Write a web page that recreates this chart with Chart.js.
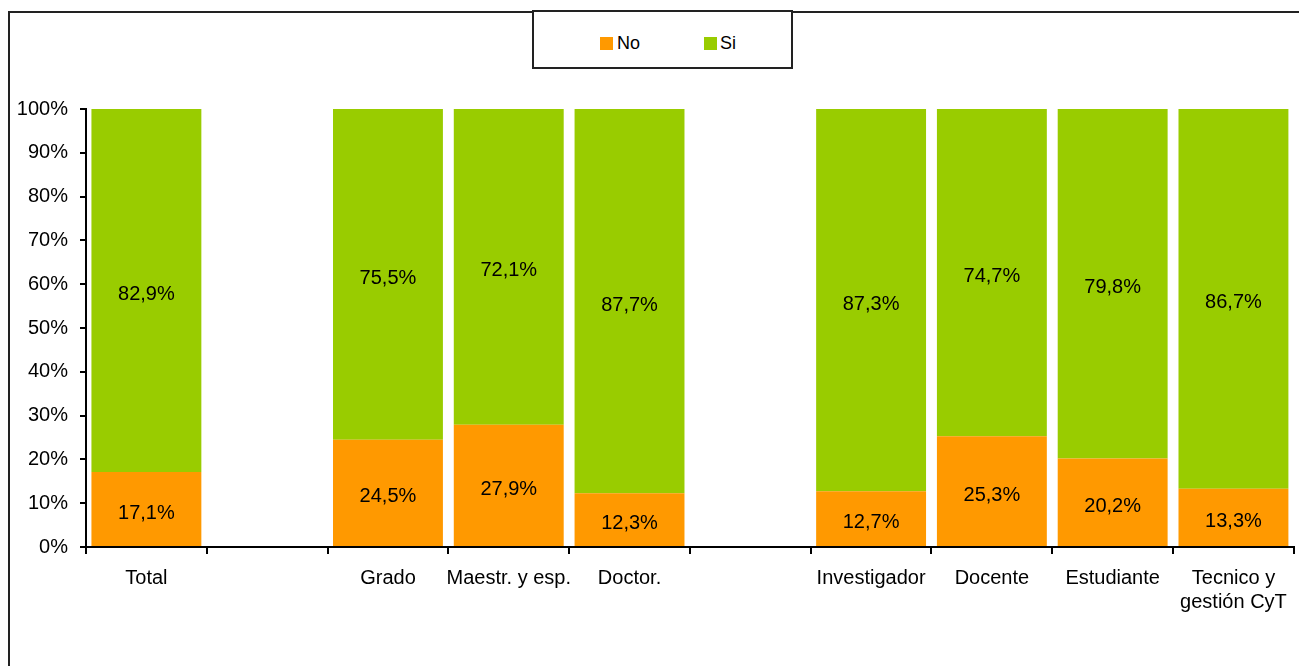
<!DOCTYPE html>
<html>
<head>
<meta charset="utf-8">
<script src="https://cdn.jsdelivr.net/npm/chart.js@4/dist/chart.umd.min.js"></script>
<style>
  body { margin: 0; background: #fff; font-family: "Liberation Sans", Arial, sans-serif; }
  #wrap { position: relative; width: 1299px; height: 666px; overflow: hidden; }
  #frame { position: absolute; left: 8px; top: 11px; width: 1400px; height: 800px; border: 2px solid #222; }
  #legend { position: absolute; left: 532px; top: 10px; width: 257px; height: 55px; border: 2px solid #222; background: #fff; font-size: 18px; color: #000; }
  #legend span.sw { position: absolute; top: 25px; width: 13px; height: 13px; }
  #legend span.tx { position: absolute; top: 21px; }
  canvas { position: absolute; left: 0; top: 0; }
</style>
</head>
<body>
<div id="wrap">
  <div id="frame"></div>
  <canvas id="chart" width="1299" height="666"></canvas>
  <div id="legend">
    <span class="sw" style="left:66px;background:#FF9900"></span><span class="tx" style="left:83px">No</span>
    <span class="sw" style="left:170px;background:#99CC00"></span><span class="tx" style="left:186px">Si</span>
  </div>
</div>
<script>
// categorías (las vacías separan los grupos)
const categorias = ['Total', '', 'Grado', 'Maestr. y esp.', 'Doctor.', '', 'Investigador', 'Docente', 'Estudiante', ['Tecnico y', 'gestión CyT']];
const valoresNo = [17.1, null, 24.5, 27.9, 12.3, null, 12.7, 25.3, 20.2, 13.3];
const valoresSi = [82.9, null, 75.5, 72.1, 87.7, null, 87.3, 74.7, 79.8, 86.7];
const ticksY = [0, 10, 20, 30, 40, 50, 60, 70, 80, 90, 100];

const FONT = '"Liberation Sans", Arial, sans-serif';

// etiquetas de valor dentro de cada segmento
const etiquetas = {
    id: 'etiquetas',
    afterDatasetsDraw(chart) {
        const ctx = chart.ctx;
        ctx.save();
        ctx.font = '20px ' + FONT;
        ctx.fillStyle = '#000';
        ctx.textAlign = 'center';
        ctx.textBaseline = 'middle';
        chart.data.datasets.forEach((ds, i) => {
            const meta = chart.getDatasetMeta(i);
            meta.data.forEach((bar, j) => {
                const v = ds.data[j];
                if (v === null) return;
                const y = (bar.y + bar.base) / 2 + 4;
                ctx.fillText(v.toFixed(1).replace('.', ',') + '%', bar.x, y);
            });
        });
        ctx.restore();
    }
};

new Chart(document.getElementById('chart'), {
    type: 'bar',
    data: {
        labels: categorias,
        datasets: [
            { label: 'No', data: valoresNo, backgroundColor: '#FF9900', borderWidth: 0 },
            { label: 'Si', data: valoresSi, backgroundColor: '#99CC00', borderWidth: 0 }
        ]
    },
    options: {
        responsive: false,
        animation: false,
        layout: { padding: { top: 109, right: 4, left: 0, bottom: 0 } },
        datasets: { bar: { categoryPercentage: 1, barPercentage: 0.91 } },
        plugins: { legend: { display: false }, tooltip: { enabled: false } },
        scales: {
            x: {
                stacked: true,
                grid: { drawOnChartArea: false, drawTicks: true, tickLength: 7, lineWidth: 2, color: '#000', offset: true },
                border: { display: true, color: '#000', width: 2 },
                ticks: { color: '#000', font: { size: 20, family: FONT }, padding: 12, maxRotation: 0, autoSkip: false },
                afterFit(scale) { scale.height = 119; }
            },
            y: {
                stacked: true,
                min: 0,
                max: 100,
                afterBuildTicks(scale) { scale.ticks = ticksY.map(v => ({ value: v })); },
                grid: { drawOnChartArea: false, drawTicks: true, tickLength: 6, lineWidth: 2, color: '#000' },
                border: { display: true, color: '#000', width: 2 },
                ticks: { color: '#000', font: { size: 20, family: FONT }, padding: 12, callback: v => v + '%' },
                afterFit(scale) { scale.width = 86; }
            }
        }
    },
    plugins: [etiquetas]
});
</script>
</body>
</html>
